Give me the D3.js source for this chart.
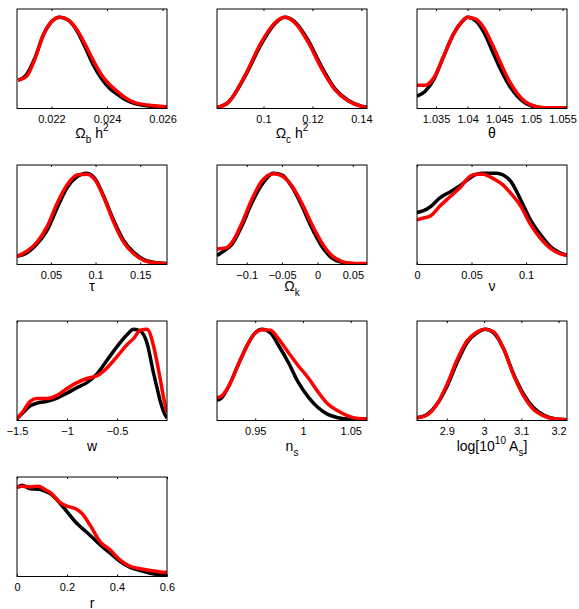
<!DOCTYPE html>
<html>
<head>
<meta charset="utf-8">
<script src="https://cdn.jsdelivr.net/npm/d3@7"></script>
<style>
  body { margin: 0; background: #fff; }
  text { font-family: "Liberation Sans", Arial, Helvetica, sans-serif; fill: #000; }
</style>
</head>
<body>
<div id="chart"></div>
<script>
// Marginal posteriors, peak scaled to 1.
// black = first chain set, red = second chain set

const obhX     = [0.0208, 0.0211, 0.0214, 0.0217, 0.0220, 0.0223, 0.0226, 0.0229, 0.0232, 0.0235, 0.0238, 0.0241, 0.0244, 0.0247, 0.0250, 0.0253, 0.0256, 0.0262];
const obhBlack = [0.31, 0.37, 0.55, 0.80, 0.95, 1.00, 0.97, 0.86, 0.68, 0.48, 0.33, 0.22, 0.15, 0.09, 0.055, 0.035, 0.022, 0.008];
const obhRed   = [0.31, 0.35, 0.54, 0.80, 0.95, 1.00, 0.97, 0.87, 0.71, 0.53, 0.37, 0.26, 0.18, 0.11, 0.065, 0.045, 0.033, 0.018];
const obhTicks = [0.022, 0.024, 0.026];

const ochX     = [0.081, 0.0857, 0.0924, 0.0992, 0.1047, 0.1087, 0.1128, 0.1182, 0.1237, 0.1291, 0.1345, 0.14, 0.1423];
const ochBlack = [0.01, 0.07, 0.35, 0.71, 0.93, 1.00, 0.95, 0.75, 0.46, 0.22, 0.09, 0.026, 0.012];
const ochRed   = [0.01, 0.07, 0.36, 0.73, 0.94, 1.00, 0.94, 0.73, 0.44, 0.21, 0.085, 0.024, 0.012];
const ochTicks = [0.1, 0.12, 0.14];

const thetaX     = [1.032, 1.0333, 1.0346, 1.0362, 1.0378, 1.0391, 1.040, 1.0413, 1.0426, 1.0439, 1.0452, 1.0465, 1.0478, 1.0491, 1.0504, 1.0517, 1.0557];
const thetaBlack = [0.135, 0.19, 0.31, 0.57, 0.82, 0.95, 1.00, 0.96, 0.83, 0.63, 0.43, 0.26, 0.14, 0.06, 0.025, 0.008, 0.005];
const thetaRed   = [0.256, 0.256, 0.33, 0.57, 0.82, 0.95, 1.00, 0.98, 0.88, 0.70, 0.50, 0.31, 0.17, 0.075, 0.03, 0.01, 0.005];
const thetaTicks = [1.035, 1.04, 1.045, 1.05, 1.055];

const tauX     = [0.012, 0.023, 0.034, 0.046, 0.057, 0.068, 0.079, 0.09, 0.1, 0.109, 0.12, 0.131, 0.143, 0.154, 0.165, 0.18];
const tauBlack = [0.09, 0.127, 0.22, 0.38, 0.62, 0.84, 0.96, 1.00, 0.93, 0.75, 0.49, 0.27, 0.13, 0.055, 0.025, 0.01];
const tauRed   = [0.09, 0.145, 0.24, 0.42, 0.67, 0.87, 0.98, 0.99, 0.92, 0.74, 0.47, 0.25, 0.115, 0.045, 0.018, 0.008];
const tauTicks = [0.05, 0.1, 0.15];

const okX     = [-0.142, -0.130, -0.121, -0.107, -0.093, -0.079, -0.062, -0.05, -0.036, -0.022, -0.008, 0.006, 0.02, 0.034, 0.048, 0.07];
const okBlack = [0.10, 0.16, 0.22, 0.42, 0.67, 0.87, 1.00, 0.98, 0.85, 0.64, 0.40, 0.20, 0.073, 0.025, 0.01, 0.005];
const okRed   = [0.17, 0.18, 0.24, 0.45, 0.71, 0.91, 0.995, 0.97, 0.86, 0.67, 0.44, 0.24, 0.10, 0.035, 0.015, 0.01];
const okTicks = [-0.1, -0.05, 0, 0.05];

const nuX     = [0, 0.006, 0.012, 0.021, 0.031, 0.04, 0.049, 0.055, 0.061, 0.067, 0.073, 0.079, 0.086, 0.095, 0.104, 0.113, 0.122, 0.131, 0.1375];
const nuBlack = [0.57, 0.59, 0.63, 0.73, 0.80, 0.87, 0.95, 0.99, 1.00, 1.00, 1.00, 0.98, 0.91, 0.71, 0.49, 0.33, 0.20, 0.127, 0.10];
const nuRed   = [0.49, 0.51, 0.53, 0.64, 0.75, 0.85, 0.97, 0.99, 0.99, 0.96, 0.92, 0.87, 0.78, 0.64, 0.44, 0.29, 0.18, 0.12, 0.10];
const nuTicks = [0, 0.05, 0.1];

const wX     = [-1.5, -1.433, -1.367, -1.3, -1.2, -1.1, -1.0, -0.9, -0.8, -0.7, -0.6, -0.5, -0.4, -0.333, -0.267, -0.2, -0.133, -0.1, -0.067, -0.033, 0];
const wBlack = [0.02, 0.094, 0.16, 0.19, 0.21, 0.245, 0.30, 0.36, 0.415, 0.51, 0.66, 0.81, 0.94, 1.00, 0.98, 0.85, 0.51, 0.36, 0.21, 0.094, 0.026];
const wRed   = [0.02, 0.11, 0.21, 0.24, 0.24, 0.275, 0.35, 0.415, 0.46, 0.49, 0.575, 0.70, 0.83, 0.90, 0.99, 1.00, 0.81, 0.64, 0.45, 0.245, 0.087];
const wTicks = [-1.5, -1, -0.5];

const nsX     = [0.91, 0.915, 0.922, 0.933, 0.943, 0.95, 0.957, 0.966, 0.974, 0.985, 0.995, 1.006, 1.016, 1.026, 1.037, 1.047, 1.058, 1.067];
const nsBlack = [0.22, 0.25, 0.37, 0.63, 0.85, 0.96, 1.00, 0.96, 0.83, 0.63, 0.42, 0.25, 0.14, 0.067, 0.03, 0.015, 0.008, 0.006];
const nsRed   = [0.25, 0.27, 0.37, 0.63, 0.85, 0.96, 0.995, 0.99, 0.90, 0.74, 0.60, 0.46, 0.31, 0.18, 0.104, 0.05, 0.022, 0.018];
const nsTicks = [0.95, 1, 1.05];

const asX     = [2.82, 2.847, 2.874, 2.9, 2.927, 2.954, 2.981, 3.003, 3.026, 3.053, 3.079, 3.106, 3.133, 3.16, 3.187, 3.2226];
const asBlack = [0.03, 0.067, 0.18, 0.37, 0.63, 0.85, 0.96, 1.00, 0.96, 0.78, 0.51, 0.29, 0.14, 0.06, 0.022, 0.008];
const asRed   = [0.03, 0.06, 0.18, 0.39, 0.66, 0.87, 0.97, 1.00, 0.97, 0.78, 0.50, 0.27, 0.12, 0.05, 0.018, 0.008];
const asTicks = [2.9, 3, 3.1, 3.2];

const rX     = [0, 0.02, 0.053, 0.087, 0.107, 0.133, 0.173, 0.2, 0.233, 0.26, 0.293, 0.333, 0.373, 0.413, 0.453, 0.493, 0.533, 0.573, 0.6];
const rBlack = [0.975, 1.00, 0.96, 0.955, 0.94, 0.91, 0.80, 0.71, 0.60, 0.53, 0.45, 0.345, 0.255, 0.164, 0.10, 0.065, 0.036, 0.018, 0.014];
const rRed   = [0.975, 0.99, 0.98, 0.99, 0.96, 0.92, 0.81, 0.77, 0.745, 0.69, 0.56, 0.38, 0.29, 0.18, 0.11, 0.084, 0.065, 0.05, 0.044];
const rTicks = [0, 0.2, 0.4, 0.6];

// axis labels: [text, "sub" | "sup" | undefined]
const labels = [
  [["Ω"], ["b", "sub"], [" h"], ["2", "sup"]],
  [["Ω"], ["c", "sub"], [" h"], ["2", "sup"]],
  [["θ"]],
  [["τ"]],
  [["Ω"], ["k", "sub"]],
  [["ν"]],
  [["w"]],
  [["n"], ["s", "sub"]],
  [["log[10"], ["10", "sup"], [" A"], ["s", "sub"], ["]"]],
  [["r"]]
];

const panels = [
  {x: obhX,   black: obhBlack,   red: obhRed,   domain: [0.02076, 0.02616], ticks: obhTicks},
  {x: ochX,   black: ochBlack,   red: ochRed,   domain: [0.081, 0.1423],    ticks: ochTicks},
  {x: thetaX, black: thetaBlack, red: thetaRed, domain: [1.032, 1.0557],    ticks: thetaTicks},
  {x: tauX,   black: tauBlack,   red: tauRed,   domain: [0.012, 0.18],      ticks: tauTicks},
  {x: okX,    black: okBlack,    red: okRed,    domain: [-0.142, 0.07],     ticks: okTicks},
  {x: nuX,    black: nuBlack,    red: nuRed,    domain: [0, 0.1375],        ticks: nuTicks},
  {x: wX,     black: wBlack,     red: wRed,     domain: [-1.5, 0],          ticks: wTicks},
  {x: nsX,    black: nsBlack,    red: nsRed,    domain: [0.91, 1.067],      ticks: nsTicks},
  {x: asX,    black: asBlack,    red: asRed,    domain: [2.82, 3.2226],     ticks: asTicks},
  {x: rX,     black: rBlack,     red: rRed,     domain: [0, 0.6],           ticks: rTicks}
];

const W = 579, H = 609;
const colX = [17, 217, 417];
const rowY = [9, 165, 321, 477];
const pw = 150, ph = 99.5;
const labelDy = [29, 26, 30, 31];

const svg = d3.select("#chart").append("svg")
  .attr("width", W)
  .attr("height", H);

const fmt = d => String(d).replace("-", "\u2212");

panels.forEach((p, i) => {
  const col = i % 3, row = Math.floor(i / 3);
  const g = svg.append("g")
    .attr("transform", `translate(${colX[col]},${rowY[row]})`);

  const xScale = d3.scaleLinear().domain(p.domain).range([0, pw]);
  const yScale = d3.scaleLinear().domain([0, 1.09]).range([ph, 0]);

  g.append("clipPath").attr("id", "clip" + i)
    .append("rect").attr("width", pw).attr("height", ph);

  // x axis at bottom, ticks pointing inward
  const axB = g.append("g")
    .attr("transform", `translate(0,${ph})`)
    .call(d3.axisBottom(xScale).tickValues(p.ticks).tickFormat(fmt).tickSize(-2).tickPadding(7));
  axB.select(".domain").remove();
  axB.selectAll("text").style("font-size", "11px").attr("font-family", null);

  const axT = g.append("g")
    .call(d3.axisTop(xScale).tickValues(p.ticks).tickFormat("").tickSize(-2));
  axT.select(".domain").remove();

  const line = d3.line()
    .x(d => xScale(d[0]))
    .y(d => yScale(d[1]))
    .curve(d3.curveMonotoneX);

  const curves = g.append("g").attr("clip-path", `url(#clip${i})`);
  [["black", p.black], ["red", p.red]].forEach(([color, ys]) => {
    curves.append("path")
      .datum(p.x.map((x, k) => [x, ys[k]]))
      .attr("fill", "none")
      .attr("stroke", color === "red" ? "#ff0000" : "#000")
      .attr("stroke-width", 3.5)
      .attr("stroke-linejoin", "round")
      .attr("d", line);
  });

  g.append("rect")
    .attr("width", pw).attr("height", ph)
    .attr("fill", "none")
    .attr("stroke", "#000")
    .attr("stroke-width", 1);

  // axis label with sub/superscripts
  const t = g.append("text")
    .attr("x", pw / 2)
    .attr("y", ph + labelDy[row])
    .attr("text-anchor", "middle")
    .style("font-size", "14px");
  let shift = 0;
  labels[i].forEach(([s, mode]) => {
    const target = mode === "sub" ? 5 : mode === "sup" ? -7 : 0;
    t.append("tspan")
      .attr("dy", target - shift)
      .style("font-size", mode ? "10px" : "14px")
      .text(s);
    shift = target;
  });
});
</script>
</body>
</html>
